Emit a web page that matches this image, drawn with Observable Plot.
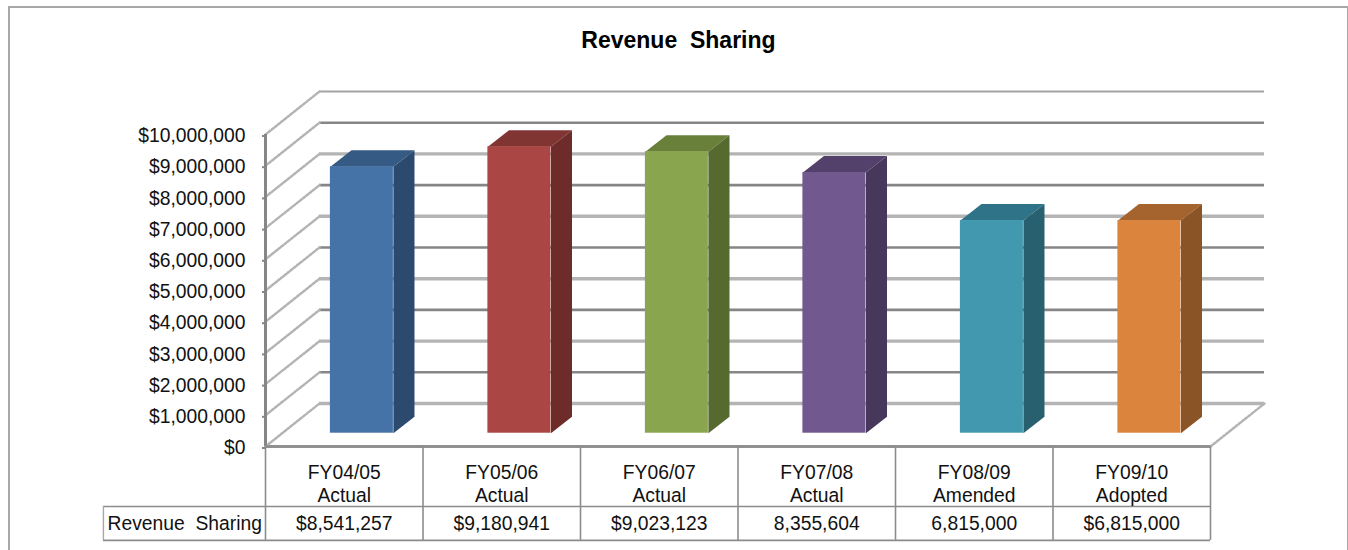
<!DOCTYPE html>
<html><head><meta charset="utf-8">
<script src="https://cdn.jsdelivr.net/npm/d3@7"></script>
<script src="https://cdn.jsdelivr.net/npm/@observablehq/plot@0.6"></script>
<style>
html,body{margin:0;padding:0;background:#fff;overflow:hidden}
#frame{position:absolute;left:8px;top:6px;width:1337px;height:560px;border:2px solid #a8a8a8;box-sizing:content-box}
#chart{position:absolute;left:0;top:0}
svg{background:transparent!important}
</style></head><body>
<div id="frame"></div><div id="chart"></div>
<script>
const title = "Revenue  Sharing";
const seriesName = "Revenue  Sharing";
const years = ["FY04/05","FY05/06","FY06/07","FY07/08","FY08/09","FY09/10"];
const stages = ["Actual","Actual","Actual","Actual","Amended","Adopted"];
const values = [8541257,9180941,9023123,8355604,6815000,6815000];
const valueLabels = ["$8,541,257","$9,180,941","$9,023,123","8,355,604","6,815,000","$6,815,000"];
const frontColors = ["#4572a7","#aa4643","#89a54e","#71588f","#4198af","#db843d"];
const topColors   = ["#355a84","#813533","#68803a","#54416b","#2f7389","#a5642d"];
const sideColors  = ["#2c4a6e","#6d2c2a","#566a30","#47375a","#296070","#8a5427"];
const yTicks = d3.range(0, 10000001, 1000000);

// depth of the 3-D projection, in data units (x = category slots, y = dollars)
const wallDx = 0.343, wallDy = 1378000;
const barShiftX = 0.112, barShiftY = 426000;
const barDepthX = 0.134, barDepthY = 530000;
const barWidth = 0.4;

const bars = values.map((v,i)=>{
  const x1 = i + 0.5 - barWidth/2 + barShiftX, x2 = x1 + barWidth;
  return {i, v, x1, x2, y1: barShiftY, y2: v + barShiftY};
});
const poly = (id, fill, pts) => pts.map(([x,y])=>({id, fill, x, y}));
const faces = bars.flatMap(b=>[
  ...poly("t"+b.i, topColors[b.i], [[b.x1,b.y2],[b.x2,b.y2],[b.x2+barDepthX,b.y2+barDepthY],[b.x1+barDepthX,b.y2+barDepthY]]),
  ...poly("s"+b.i, sideColors[b.i], [[b.x2,b.y1],[b.x2,b.y2],[b.x2+barDepthX,b.y2+barDepthY],[b.x2+barDepthX,b.y1+barDepthY]])
]);
const diagonals = yTicks.flatMap(t=>[{id:t,x:0,y:t},{id:t,x:wallDx,y:t+wallDy}]);
const floorDiag = [{x:6,y:0},{x:6+wallDx,y:wallDy}];
const rowTop = -1923000, rowBottom = -3010000, tableLeft = -1.029;
const cols = d3.range(0,7);
const fs = 19.3;

const plot = Plot.plot({
  width:1348, height:550,
  marginLeft:265, marginRight:138, marginTop:134, marginBottom:104,
  x:{domain:[0,6], axis:null},
  y:{domain:[0,10000000], axis:null},
  color:{type:"identity"},
  style:{fontFamily:"'Liberation Sans',Arial,sans-serif", background:"transparent", overflow:"visible"},
  marks:[
    Plot.ruleY(yTicks,{x1:wallDx, x2:6+wallDx, y:d=>d+wallDy,
      stroke:d=>d===10000000?"#a3a3a3":(d/1000000)%2?"#868686":"#b4b4b4",
      strokeWidth:d=>d===10000000?2:(d/1000000)%2?2.6:3.4}),
    Plot.line(diagonals,{x:"x",y:"y",z:"id",stroke:"#b4b4b4",strokeWidth:2.5,strokeDasharray:"2.5 1.5"}),
    Plot.line(floorDiag,{x:"x",y:"y",stroke:"#b4b4b4",strokeWidth:2.5,strokeDasharray:"2.5 1.5"}),
    Plot.line(faces,{x:"x",y:"y",z:"id",fill:"fill",stroke:null}),
    Plot.rect(bars,{x1:"x1",x2:"x2",y1:"y1",y2:"y2",fill:d=>frontColors[d.i]}),
    Plot.ruleX([0],{y1:0,y2:10000000,stroke:"#868686",strokeWidth:3}),
    Plot.ruleY([0],{x1:0,x2:6,stroke:"#909090",strokeWidth:3}),
    Plot.ruleX(cols,{y1:0,y2:rowBottom,stroke:"#8c8c8c",strokeWidth:1.6}),
    Plot.ruleY([rowTop,rowBottom],{x1:tableLeft,x2:6,stroke:"#8c8c8c",strokeWidth:1.6}),
    Plot.ruleX([tableLeft],{y1:rowTop,y2:rowBottom,stroke:"#a8a8a8",strokeWidth:1.4}),
    Plot.axisY({ticks:yTicks,tickFormat:d3.format("$,"),tickSize:3,tickPadding:17,fontSize:fs,stroke:"#868686",strokeWidth:2,color:"#111",label:null,dy:1.5}),
    Plot.text(years.map((y,i)=>({x:i+.5,t:y+"\n"+stages[i]})),{x:"x",y:-1170000,text:"t",fontSize:fs,fill:"#111",lineHeight:1.2}),
    Plot.text(valueLabels,{x:(d,i)=>i+.5,y:-2490000,text:d=>d,fontSize:fs,fill:"#111"}),
    Plot.text([seriesName],{x:-1.003,y:-2490000,text:d=>d,textAnchor:"start",fontSize:fs,fill:"#111",style:"white-space:pre"}),
    Plot.text([title],{x:2.622,y:13010000,text:d=>d,fontSize:23,fontWeight:"bold",fill:"#000",style:"white-space:pre"})
  ]
});
document.getElementById("chart").appendChild(plot);
</script>
</body></html>
